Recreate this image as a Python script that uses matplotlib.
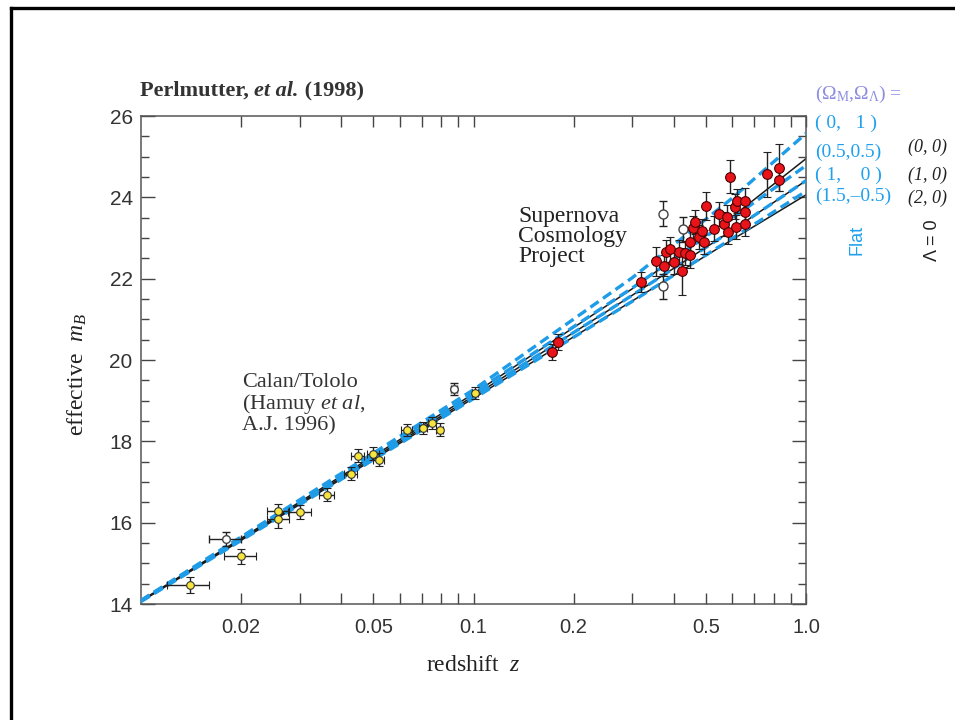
import matplotlib
matplotlib.use("Agg")
from matplotlib import pyplot as plt
from matplotlib.lines import Line2D
from matplotlib.ticker import FixedLocator, NullFormatter, MultipleLocator

plt.rcParams["font.family"] = ["Liberation Serif", "DejaVu Serif"]
plt.rcParams["mathtext.fontset"] = "custom"
plt.rcParams["mathtext.rm"] = "Liberation Serif"
plt.rcParams["mathtext.it"] = "Liberation Serif:italic"
plt.rcParams["mathtext.bf"] = "Liberation Serif:bold"

# Calan/Tololo low-redshift supernovae (filled yellow)
ct_z = [0.0140, 0.0200, 0.0259, 0.0259, 0.0301, 0.0362, 0.0427, 0.0448,
        0.0499, 0.0519, 0.0629, 0.0706, 0.0751, 0.0792, 0.101]
ct_m = [14.47, 15.17, 16.08, 16.28, 16.26, 16.69, 17.20, 17.64,
        17.70, 17.55, 18.27, 18.33, 18.46, 18.29, 19.19]
ct_zerr = [0.002, 0.0022, 0.002, 0.002, 0.0024, 0.0018, 0.002, 0.002,
           0.002, 0.002, 0.0022, 0.002, 0.002, 0.002, 0.002]
ct_merr = [0.2, 0.19, 0.2, 0.18, 0.18, 0.16, 0.16, 0.16,
           0.16, 0.16, 0.15, 0.15, 0.15, 0.15, 0.15]

# Calan/Tololo excluded (open)
ct_open_z = [0.0180, 0.0873]
ct_open_m = [15.60, 19.28]
ct_open_zerr = [0.002, 0.002]
ct_open_merr = [0.17, 0.15]

# Supernova Cosmology Project (filled red)
scp_z = [0.172, 0.180, 0.319, 0.354, 0.373, 0.379, 0.389, 0.400, 0.414,
         0.424, 0.433, 0.448, 0.448, 0.457, 0.464, 0.477, 0.486, 0.495,
         0.500, 0.527, 0.548, 0.567, 0.578, 0.582, 0.591, 0.612, 0.616,
         0.619, 0.656, 0.656, 0.656, 0.762, 0.832, 0.832]
scp_m = [20.20, 20.45, 21.91, 22.43, 22.32, 22.65, 22.72, 22.41, 22.65,
         22.18, 22.63, 22.57, 22.90, 23.25, 23.40, 23.03, 23.17, 22.90,
         23.79, 23.23, 23.59, 23.34, 23.52, 23.15, 24.51, 23.77, 23.27,
         23.91, 23.92, 23.64, 23.35, 24.57, 24.73, 24.42]
scp_merr = [0.2, 0.2, 0.25, 0.36, 0.25, 0.3, 0.3, 0.3, 0.3,
            0.58, 0.3, 0.3, 0.3, 0.3, 0.3, 0.3, 0.3, 0.3,
            0.35, 0.3, 0.3, 0.3, 0.3, 0.3, 0.4, 0.3, 0.3,
            0.3, 0.3, 0.3, 0.3, 0.55, 0.58, 0.27]

# SCP excluded (open)
scp_open_z = [0.371, 0.371, 0.426]
scp_open_m = [23.60, 21.81, 23.21]
scp_open_merr = [0.3, 0.3, 0.3]

# model curves (Omega_M, Omega_Lambda)
model_z = [0.01, 0.1, 0.3, 0.6, 1.0]
flat_models = {
    "0, 1": [14.09, 19.27, 22.02, 23.98, 25.57],
    "0.5, 0.5": [14.08, 19.19, 21.77, 23.49, 24.78],
    "1, 0": [14.07, 19.11, 21.59, 23.19, 24.41],
    "1.5, -0.5": [14.06, 19.05, 21.44, 22.99, 24.15],
}
lambda0_models = {
    "0, 0": [14.08, 19.17, 21.75, 23.52, 24.95],
    "1, 0": [14.07, 19.11, 21.59, 23.19, 24.41],
    "2, 0": [14.06, 19.06, 21.45, 22.96, 24.06],
}

W, H = 955, 720
fig = plt.figure(figsize=(W / 100, H / 100), dpi=100)
ax = fig.add_axes([141 / W, 1 - 604 / H, 665 / W, 488 / H])

for m in lambda0_models.values():
    ax.plot(model_z, m, color="#1a1a1a", lw=1.1, zorder=2)
for m in flat_models.values():
    ax.plot(model_z, m, color="#1e9ce8", lw=2.4, ls=(0, (3, 1.6)), zorder=3)

err_kw = dict(ecolor="#222222", elinewidth=1.0, capsize=3, capthick=1.0, ls="none", zorder=4)
ax.errorbar(ct_open_z, ct_open_m, xerr=ct_open_zerr, yerr=ct_open_merr, fmt="o",
            ms=5.5, mfc="white", mec="#444444", mew=1.0, **err_kw)
ax.errorbar(ct_z, ct_m, xerr=ct_zerr, yerr=ct_merr, fmt="o",
            ms=5.5, mfc="#f7e43c", mec="#333333", mew=0.8, **err_kw)
ax.errorbar(scp_open_z, scp_open_m, yerr=scp_open_merr, fmt="o",
            ms=6.5, mfc="white", mec="#444444", mew=1.0, **err_kw)
ax.errorbar(scp_z, scp_m, yerr=scp_merr, fmt="o",
            ms=7, mfc="#e8141a", mec="#4a0000", mew=0.8, **err_kw)

ax.set_xscale("log")
ax.set_xlim(0.01, 1.0)
ax.set_ylim(14, 26)

major_x = [0.02, 0.05, 0.1, 0.2, 0.5, 1.0]
minor_x = [0.03, 0.04, 0.06, 0.07, 0.08, 0.09, 0.3, 0.4, 0.6, 0.7, 0.8, 0.9]
ax.xaxis.set_major_locator(FixedLocator(major_x))
ax.xaxis.set_minor_locator(FixedLocator(minor_x))
ax.xaxis.set_minor_formatter(NullFormatter())
ax.set_xticklabels(["0.02", "0.05", "0.1", "0.2", "0.5", "1.0"])
ax.yaxis.set_major_locator(MultipleLocator(2))
ax.yaxis.set_minor_locator(MultipleLocator(0.5))

ax.tick_params(axis="both", which="both", direction="in", top=True, right=True,
               color="#444444", width=1.0, labelcolor="#333333")
ax.tick_params(axis="x", which="both", length=8, pad=10, labelsize=14.5)
ax.tick_params(axis="y", which="major", length=10, pad=6, labelsize=15)
ax.tick_params(axis="y", which="minor", length=6)
for lab in ax.get_xticklabels() + ax.get_yticklabels():
    lab.set_fontfamily(["Liberation Sans", "DejaVu Sans"])
for sp in ax.spines.values():
    sp.set_color("#555555")
    sp.set_linewidth(1.1)

ax.set_xlabel(r"redshift  $z$", fontsize=17, color="#222222")
ax.xaxis.set_label_coords(0.5, -0.105)
ax.set_ylabel(r"effective  $m_B$", fontsize=17, color="#222222")
ax.yaxis.set_label_coords(-0.078, 0.47)

ax.text((242 - 141) / 665, 1 - (373 - 116) / 488,
        "Calan/Tololo\n(Hamuy $\\mathit{et\\ al}$,\nA.J. 1996)",
        transform=ax.transAxes, ha="left", va="top", fontsize=16,
        color="#333333", linespacing=1.0)
ax.text((518 - 141) / 665, 1 - (206 - 116) / 488,
        "Supernova\nCosmology\nProject",
        transform=ax.transAxes, ha="left", va="top", fontsize=17,
        color="#222222", linespacing=0.95)

# title in three pieces
t1 = fig.text(140 / W, 1 - 96 / H, "Perlmutter, ", fontsize=16, weight="bold",
              color="#333333", va="baseline")
t2 = fig.text(0, 0, "et al.", fontsize=16, weight="bold", style="italic",
              color="#333333")
t3 = fig.text(0, 0, " (1998)", fontsize=16, weight="bold", color="#333333")
fig.canvas.draw()
r = fig.canvas.get_renderer()
bb1 = t1.get_window_extent(r)
t2.set_position((bb1.x1 / fig.bbox.width, 1 - 96 / H))
t2.set_va("baseline")
fig.canvas.draw()
bb2 = t2.get_window_extent(r)
t3.set_position((bb2.x1 / fig.bbox.width, 1 - 96 / H))
t3.set_va("baseline")

# model labels on the right
blue = "#1ea0ee"
fig.text(815 / W, 1 - 94 / H, r"($\Omega_{\rm M}$,$\Omega_\Lambda$) =",
         fontsize=14, color="#8c8ce0", va="center")
flat_labels = ["( 0,   1 )", "(0.5,0.5)", "( 1,    0 )", "(1.5,\u20130.5)"]
flat_y = [123, 152, 175, 196]
for lab, y in zip(flat_labels, flat_y):
    fig.text(815 / W, 1 - y / H, lab, fontsize=14, color=blue, va="center")
open_labels = ["(0, 0)", "(1, 0)", "(2, 0)"]
open_y = [147, 175, 198]
for lab, y in zip(open_labels, open_y):
    fig.text(908 / W, 1 - y / H, lab, fontsize=13, color="#222222",
             style="italic", va="center")
fig.text(857 / W, 1 - 240 / H, "Flat", fontsize=13, color=blue, rotation=90,
         ha="center", va="center", family=["Liberation Sans", "DejaVu Sans"])
fig.text(932 / W, 1 - 240 / H, "\u039b = 0", fontsize=13, color="#222222",
         rotation=90, ha="center", va="center",
         family=["Liberation Sans", "DejaVu Sans"])

# black page frame, left and top edges
fx = 11 / W
fy = 1 - 8 / H
fig.add_artist(Line2D([fx, fx], [0, fy], color="black", lw=2.4,
                      transform=fig.transFigure, solid_capstyle="projecting"))
fig.add_artist(Line2D([fx, 1], [fy, fy], color="black", lw=2.4,
                      transform=fig.transFigure, solid_capstyle="projecting"))

fig.savefig("out.png", dpi=100)
